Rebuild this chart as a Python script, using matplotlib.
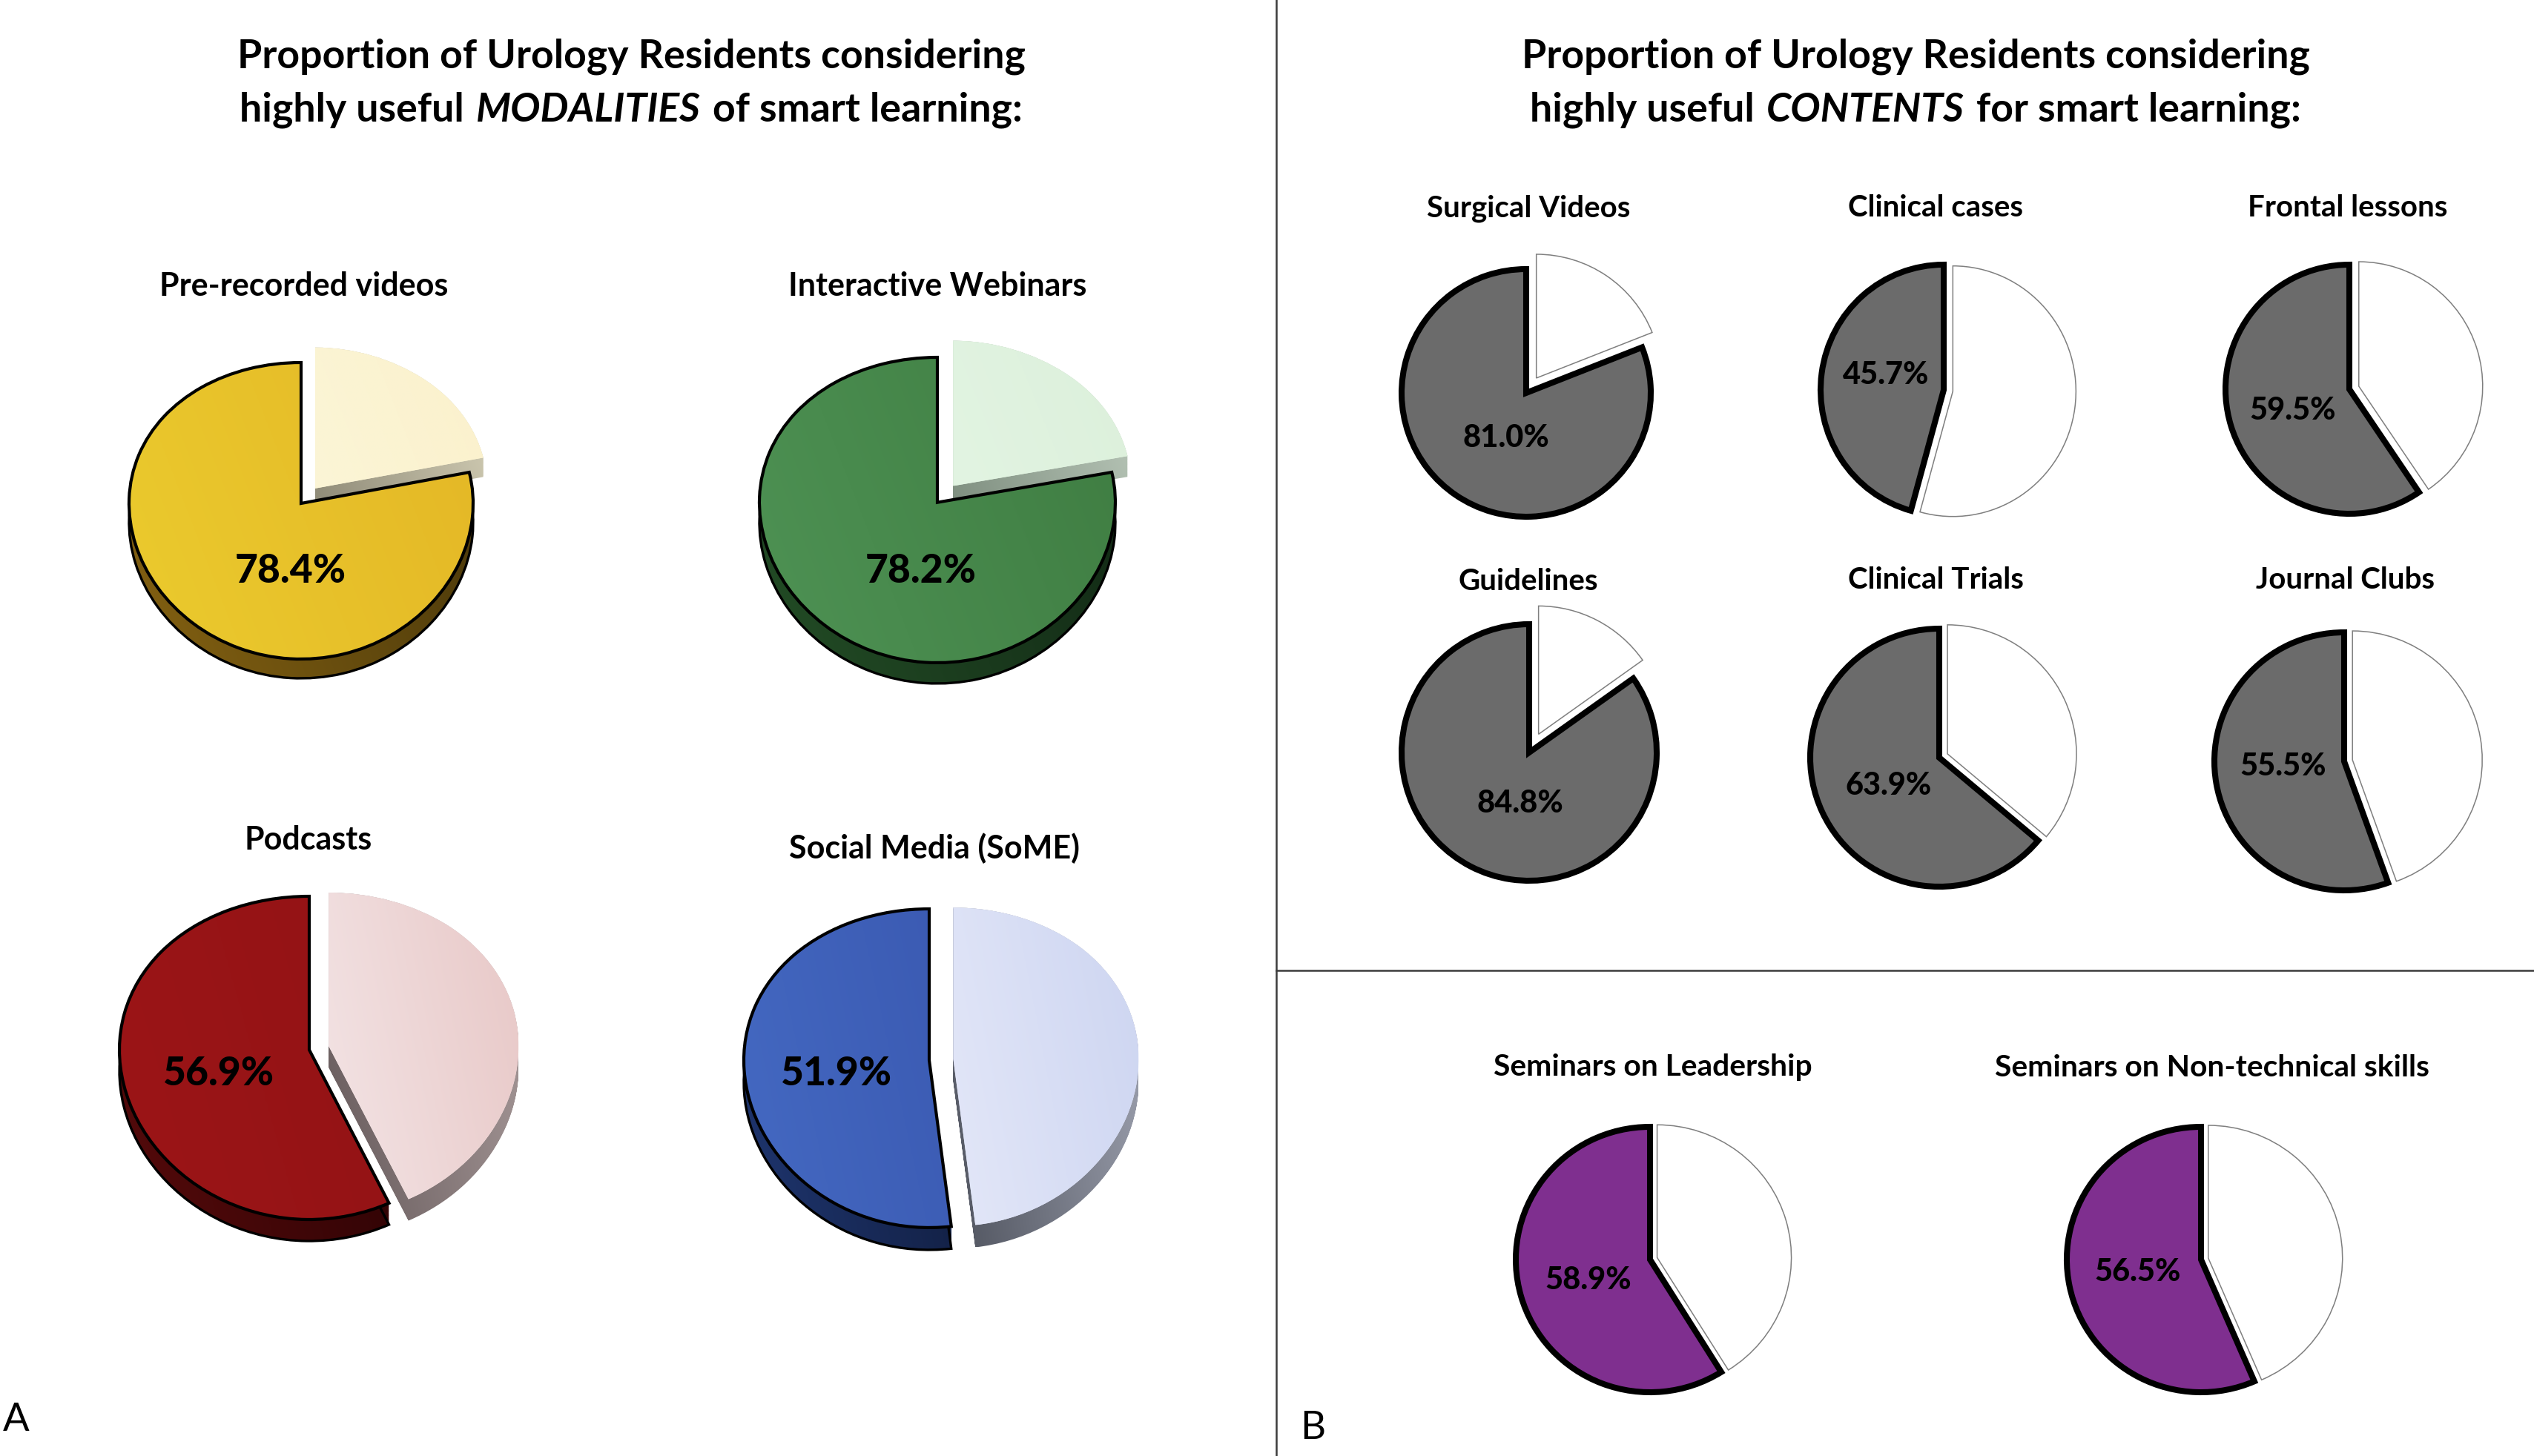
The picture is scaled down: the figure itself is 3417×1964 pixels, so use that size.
# -*- coding: utf-8 -*-
import numpy as np
import matplotlib
matplotlib.use('Agg')
import matplotlib.pyplot as plt
from matplotlib.colors import LinearSegmentedColormap
from matplotlib.patches import PathPatch
from matplotlib.path import Path
from matplotlib.transforms import Affine2D

W, H = 3417, 1965
plt.rcParams['font.family'] = ['Lato', 'DejaVu Sans']

# modalities (panel A)
mod_names = ['Pre-recorded videos', 'Interactive Webinars', 'Podcasts', 'Social Media (SoME)']
mod_values = [78.4, 78.2, 56.9, 51.9]
# contents (panel B, top)
cont_names = ['Surgical Videos', 'Clinical cases', 'Frontal lessons',
              'Guidelines', 'Clinical Trials', 'Journal Clubs']
cont_values = [81.0, 45.7, 59.5, 84.8, 63.9, 55.5]
# seminars (panel B, bottom)
sem_names = ['Seminars on Leadership', 'Seminars on Non-technical skills']
sem_values = [58.9, 56.5]

# layout, in pixels: cx, cy, rx, ry, explode, depth
mod_pos = [(406, 690, 232, 200, 0.13, 26), (1264, 689, 240, 206, 0.14, 28),
           (417, 1428, 256, 218, 0.105, 29), (1253, 1442, 250, 215, 0.13, 30)]
cont_pos = [(2058, 531, 168, 167, 0.145), (2621, 527, 166, 169, 0.075), (3168, 526, 167, 168, 0.08),
            (2062, 1016, 172, 173, 0.16), (2615, 1023, 174, 174, 0.07), (3161, 1028, 175, 174, 0.065)]
sem_pos = [(2225, 1700, 181, 179, 0.055), (2968, 1700, 181, 179, 0.055)]

mod_name_xy = [(410, 386), (1264, 386), (416, 1133), (1260, 1144)]
mod_pct_xy = [(392, 770), (1242, 770), (294, 1448), (1127, 1448)]
cont_name_xy = [(2061, 281), (2610, 281), (3166, 281), (2061, 784), (2610, 782), (3162, 782)]
cont_pct_xy = [(2031, 591), (2543, 506), (3092, 554), (2050, 1084), (2547, 1060), (3079, 1034)]
sem_name_xy = [(2229, 1440), (2983, 1440)]
sem_pct_xy = [(2142, 1727), (2883, 1716)]

# colours: face left, face right, light left, light right, side left, side right, light side left, right
mod_cols = [('#EBCB2E', '#E4B726', '#FBF5D6', '#FBF1CC', '#856212', '#47360A', '#8F8B78', '#D6D1B8'),
            ('#4E9254', '#3F7D42', '#E2F4E2', '#DCF0DB', '#234D26', '#112714', '#7F8F80', '#BCCABC'),
            ('#9C1517', '#931315', '#F3E4E5', '#E8C8C7', '#560A0B', '#2A0304', '#665A5B', '#A89A9A'),
            ('#4469C2', '#3B5AB2', '#E3E7F8', '#CDD5F1', '#1F3670', '#101C3C', '#50545F', '#A0A4B2')]
GREY = '#6B6B6B'
PURPLE = '#7F2F8F'

LIM = 1.4
WARP = 0.05  # centre of the tilted pies sits a little above the middle of the ellipse
fig = plt.figure(figsize=(W / 100, H / 100), dpi=100, facecolor='white')


def fx(x):
    return x / W


def fy(y):
    return 1 - y / H


def pie_axes(cx, cy, rx, ry):
    ax = fig.add_axes([fx(cx - LIM * rx), fy(cy + LIM * ry), 2 * LIM * rx / W, 2 * LIM * ry / H])
    return ax


def finish_axes(ax):
    ax.set_aspect('auto')
    ax.set_xlim(-LIM, LIM)
    ax.set_ylim(-LIM, LIM)
    ax.axis('off')
    ax.patch.set_alpha(0)


def warped(path):
    v = path.vertices.copy()
    v[:, 1] = v[:, 1] + WARP * np.clip(1 - v[:, 1] ** 2, 0, None)
    return Path(v, path.codes)


def gradient(ax, path, c1, c2, z):
    # diagonal shading over the extent of the shape
    cmap = LinearSegmentedColormap.from_list('g', [c1, c2])
    box = path.get_extents()
    gx, gy = np.meshgrid(np.linspace(0, 1, 128), np.linspace(0, 1, 128))
    im = ax.imshow(0.75 * gx + 0.25 * gy, extent=(box.x0, box.x1, box.y0, box.y1), origin='lower', cmap=cmap,
                   aspect='auto', interpolation='bilinear', zorder=z, vmin=0, vmax=1)
    clip = PathPatch(path, transform=ax.transData, fc='none', ec='none')
    im.set_clip_path(clip)


def pie_3d(value, pos, cols):
    cx, cy, rx, ry, expl, depth = pos
    ax = pie_axes(cx, cy, rx, ry)
    wedges, _ = ax.pie([value, 100 - value], explode=[0, expl], startangle=90, radius=1,
                       colors=[cols[0], cols[2]], wedgeprops=dict(linewidth=0))
    for w in wedges:
        w._path = warped(w.get_path())
        w.set_zorder(10)
    d = depth / ry
    offs = np.linspace(0, d, 25)
    # extruded side first, light slice then dark
    for k, i in enumerate([1, 0]):
        base = wedges[i].get_path()
        side = Path.make_compound_path(*[base.transformed(Affine2D().translate(0, -o)) for o in offs])
        gradient(ax, side, cols[4 + 2 * i], cols[5 + 2 * i], 2 + k)
        if i == 0:
            ax.add_patch(PathPatch(base.transformed(Affine2D().translate(0, -d)), fc='none', ec='black',
                                   lw=2.4, zorder=4))
    for i, w in enumerate(wedges):
        gradient(ax, w.get_path(), cols[2 * i], cols[2 * i + 1], 11)
    ax.add_patch(PathPatch(wedges[0].get_path(), fc='none', ec='black', lw=3.0, joinstyle='miter', zorder=12))
    finish_axes(ax)


def pie_flat(value, pos, col):
    cx, cy, rx, ry, expl = pos
    ax = pie_axes(cx, cy, rx, ry)
    wedges, _ = ax.pie([value, 100 - value], explode=[0, expl], startangle=90, radius=1, colors=[col, 'white'])
    wedges[0].set(edgecolor='black', linewidth=5.8, joinstyle='miter', zorder=5)
    wedges[1].set(edgecolor='#7F7F7F', linewidth=1.1, joinstyle='miter', zorder=4)
    finish_axes(ax)


def label(xy, s, size, weight='bold', **kw):
    return fig.text(fx(xy[0]), fy(xy[1]), s, fontsize=size, fontweight=weight, ha='center', va='center',
                    color='black', zorder=20, **kw)


def title_line(cx, y, before, ital, after):
    # three pieces, the middle one in bold italic
    r = fig.canvas.get_renderer()
    parts = [fig.text(0, fy(y), before, fontsize=TITLE, fontweight='bold', va='center'),
             fig.text(0, fy(y), ital, fontsize=TITLE, fontweight='bold', style='italic', va='center'),
             fig.text(0, fy(y), after, fontsize=TITLE, fontweight='bold', va='center')]
    widths = [p.get_window_extent(r).width for p in parts]
    gap = TITLE * 0.42
    x = cx - (sum(widths) + 2 * gap) / 2
    for p, wd in zip(parts, widths):
        p.set_x(fx(x))
        x += wd + gap


TITLE = 38.6
for cx, word, end in [(851, 'MODALITIES', 'of smart learning:'), (2583, 'CONTENTS', 'for smart learning:')]:
    label((cx, 76), 'Proportion of Urology Residents considering', TITLE)
    title_line(cx, 148, 'highly useful', word, end)

for v, p, c, n, nxy, pxy in zip(mod_values, mod_pos, mod_cols, mod_names, mod_name_xy, mod_pct_xy):
    pie_3d(v, p, c)
    label(nxy, n, 31)
    label(pxy, '%.1f%%' % v, 38.5, weight='black')

for v, p, n, nxy, pxy in zip(cont_values, cont_pos, cont_names, cont_name_xy, cont_pct_xy):
    pie_flat(v, p, GREY)
    label(nxy, n, 29)
    label(pxy, '%.1f%%' % v, 30, weight='black')

for v, p, n, nxy, pxy in zip(sem_values, sem_pos, sem_names, sem_name_xy, sem_pct_xy):
    pie_flat(v, p, PURPLE)
    label(nxy, n, 29.3)
    label(pxy, '%.1f%%' % v, 30, weight='black')

label((22, 1916), 'A', 38, weight='normal')
label((1770, 1927), 'B', 38, weight='normal')

# panel separators
fig.add_artist(plt.Line2D([fx(1721), fx(1721)], [0, 1], color='#3C3C3C', lw=1.8))
fig.add_artist(plt.Line2D([fx(1721), 1], [fy(1310), fy(1310)], color='#3C3C3C', lw=1.8))

fig.savefig('out.png', dpi=100, facecolor='white')
